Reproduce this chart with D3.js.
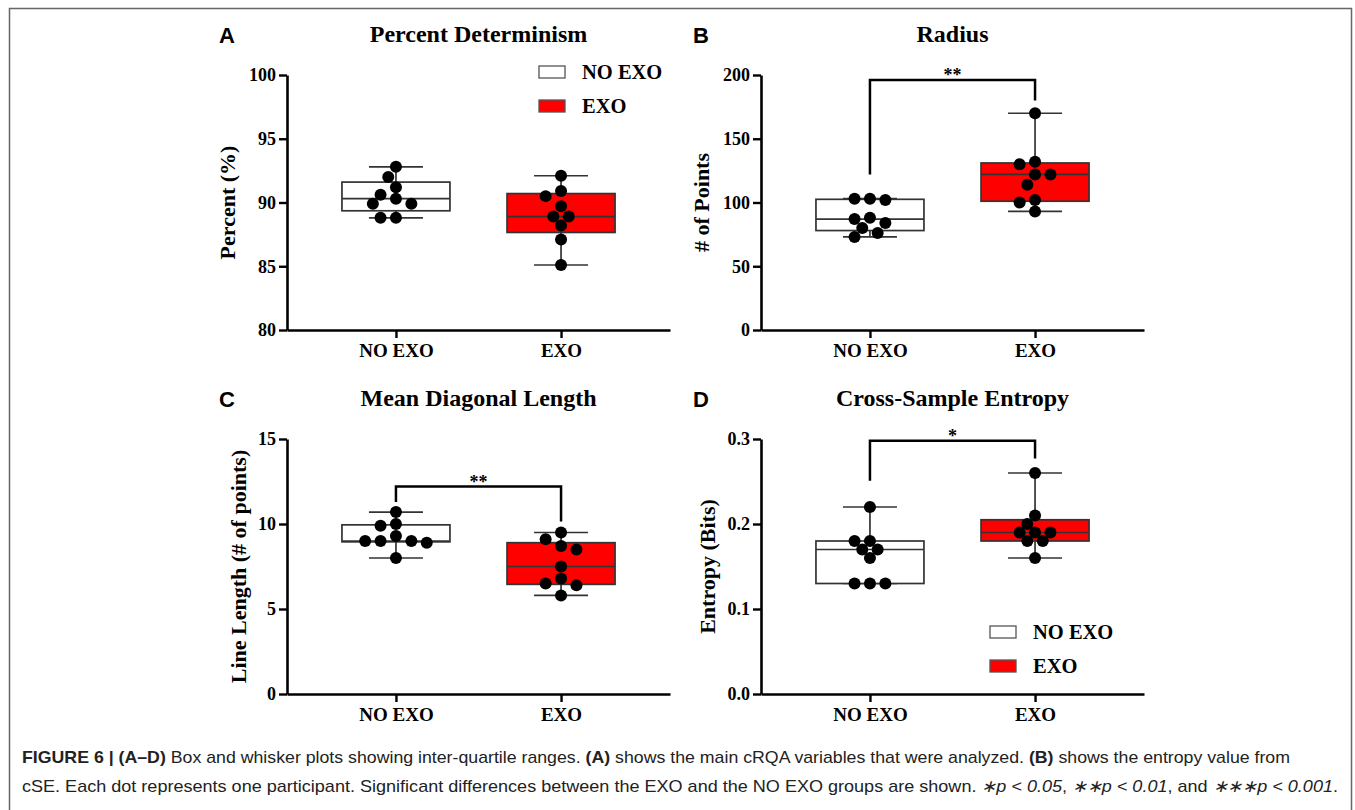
<!DOCTYPE html>
<html>
<head>
<meta charset="utf-8">
<script src="https://cdn.jsdelivr.net/npm/d3@7"></script>
<style>
  body { margin: 0; background: #fff; }
  svg .serif { font-family: "Liberation Serif", "Times New Roman", serif; }
  svg .sans { font-family: "Liberation Sans", Arial, Helvetica, sans-serif; }
</style>
</head>
<body>
<svg id="fig" width="1355" height="810"></svg>
<script>
const groups = ["NO EXO", "EXO"];

// one value per participant
const detNoExo = [89.9, 90.6, 92.0, 90.3, 92.8, 91.2, 89.9, 88.8, 88.8];
const detExo   = [92.1, 90.9, 90.5, 89.7, 88.9, 88.9, 88.2, 87.1, 85.1];
const radNoExo = [103, 102, 103, 88, 87, 84, 80, 73, 76];
const radExo   = [170, 130, 132, 122, 122, 114, 102, 100, 93];
const mdlNoExo = [10.7, 9.9, 10.0, 9.3, 9.0, 9.0, 8.9, 9.0, 8.0];
const mdlExo   = [9.5, 9.1, 8.7, 8.5, 7.5, 6.8, 6.5, 6.4, 5.8];
const cseNoExo = [0.22, 0.18, 0.18, 0.17, 0.17, 0.16, 0.13, 0.13, 0.13];
const cseExo   = [0.26, 0.21, 0.20, 0.19, 0.19, 0.19, 0.18, 0.18, 0.16];

const detTicks = [80, 85, 90, 95, 100];
const radTicks = [0, 50, 100, 150, 200];
const mdlTicks = [0, 5, 10, 15];
const cseTicks = [0.0, 0.1, 0.2, 0.3];

// significance brackets (data units): top of bracket, bottom of left leg, bottom of right leg
const sigRad = { label: "**", top: 196, left: 122, right: 180 };
const sigMdl = { label: "**", top: 12.2, left: 11.3, right: 10.15 };
const sigCse = { label: "*", top: 0.298, left: 0.251, right: 0.277 };

const fills = { "NO EXO": "#ffffff", "EXO": "#ff0000" };

const svg = d3.select("#fig");
const W = 383, H = 255;
const R = 6;

// Prism style quartiles, (n+1)p
function quart(sorted, p) {
  const n = sorted.length;
  const pos = (n + 1) * p;
  const lo = Math.floor(pos);
  const a = sorted[Math.min(Math.max(lo, 1), n) - 1];
  const b = sorted[Math.min(Math.max(lo + 1, 1), n) - 1];
  return a + (b - a) * (pos - lo);
}

// simple dodge so dots don't sit on each other
function dodge(values, y, r, step) {
  const order = values.map((v, i) => i).sort((a, b) => values[b] - values[a]);
  const placed = [];
  const off = new Array(values.length);
  order.forEach(i => {
    const py = y(values[i]);
    for (let k = 0; k < 30; k++) {
      const slot = k === 0 ? 0 : (k % 2 ? -Math.ceil(k / 2) : k / 2);
      const px = slot * step;
      const hit = placed.some(p => Math.hypot(p[0] - px, p[1] - py) < 2 * r * 0.95);
      if (!hit) { off[i] = px; placed.push([px, py]); break; }
    }
  });
  return off;
}

function drawPanel(cfg) {
  const g = svg.append("g").attr("transform", `translate(${cfg.left},${cfg.top})`);

  const x = d3.scalePoint().domain(groups).range([0, W]).padding(0.66);
  const y = d3.scaleLinear().domain(cfg.domain).range([H, 0]);

  // panel letter + title
  svg.append("text").attr("class", "sans")
    .attr("x", cfg.left - 68).attr("y", cfg.top - 32)
    .style("font-weight", "bold").style("font-size", "22px")
    .text(cfg.letter);
  svg.append("text").attr("class", "serif")
    .attr("x", cfg.left + W / 2).attr("y", cfg.top - 33.5)
    .attr("text-anchor", "middle")
    .style("font-weight", "bold").style("font-size", "24px")
    .text(cfg.title);

  // y label
  g.append("text").attr("class", "serif")
    .attr("transform", `translate(${cfg.yLabelX},${H / 2}) rotate(-90)`)
    .attr("text-anchor", "middle")
    .style("font-weight", "bold").style("font-size", "22px")
    .text(cfg.yLabel);

  const boxW = 108;
  const series = [cfg.noExo, cfg.exo];

  series.forEach((vals, gi) => {
    const grp = groups[gi];
    const cx = x(grp);
    const s = vals.slice().sort(d3.ascending);
    const q1 = quart(s, 0.25), med = quart(s, 0.5), q3 = quart(s, 0.75);
    const lo = s[0], hi = s[s.length - 1];
    const bg = g.append("g");

    // whiskers
    bg.append("line").attr("x1", cx).attr("x2", cx).attr("y1", y(q3)).attr("y2", y(hi))
      .attr("stroke", "#333").attr("stroke-width", 1.7);
    bg.append("line").attr("x1", cx).attr("x2", cx).attr("y1", y(q1)).attr("y2", y(lo))
      .attr("stroke", "#333").attr("stroke-width", 1.7);
    [hi, lo].forEach(v => {
      bg.append("line").attr("x1", cx - boxW / 4).attr("x2", cx + boxW / 4)
        .attr("y1", y(v)).attr("y2", y(v))
        .attr("stroke", "#333").attr("stroke-width", 1.7);
    });

    bg.append("rect")
      .attr("x", cx - boxW / 2).attr("width", boxW)
      .attr("y", y(q3)).attr("height", y(q1) - y(q3))
      .attr("fill", fills[grp]).attr("stroke", "#333").attr("stroke-width", 1.7);
    bg.append("line").attr("x1", cx - boxW / 2).attr("x2", cx + boxW / 2)
      .attr("y1", y(med)).attr("y2", y(med))
      .attr("stroke", "#333").attr("stroke-width", 1.7);

    const offs = dodge(vals, y, R, 7.7);
    bg.selectAll("circle.dot")
      .data(vals)
      .enter().append("circle")
      .attr("class", "dot")
      .attr("cx", (d, i) => cx + offs[i])
      .attr("cy", d => y(d))
      .attr("r", R)
      .attr("fill", "#000");
  });

  // axes
  const yAxis = g.append("g")
    .call(d3.axisLeft(y).tickValues(cfg.ticks).tickFormat(cfg.fmt).tickSize(8).tickSizeOuter(0).tickPadding(3));
  const xAxis = g.append("g")
    .attr("transform", `translate(0,${H})`)
    .call(d3.axisBottom(x).tickSize(8).tickSizeOuter(0).tickPadding(6));
  [yAxis, xAxis].forEach(a => {
    a.select(".domain").attr("stroke", "#000").attr("stroke-width", 2.6);
    a.selectAll(".tick line").attr("stroke", "#000").attr("stroke-width", 2.4);
    a.selectAll("text").attr("class", "serif")
      .style("font-weight", "bold").attr("fill", "#000");
  });
  yAxis.selectAll("text").style("font-size", "18px");
  xAxis.selectAll("text").style("font-size", "19px");

  // significance bracket
  if (cfg.sig) {
    const sg = cfg.sig;
    const x0 = x(groups[0]), x1 = x(groups[1]);
    g.append("path")
      .attr("d", `M${x0},${y(sg.left)}V${y(sg.top)}H${x1}V${y(sg.right)}`)
      .attr("fill", "none").attr("stroke", "#000").attr("stroke-width", 2.5);
    g.append("text").attr("class", "serif")
      .attr("x", (x0 + x1) / 2).attr("y", y(sg.top) + 1)
      .attr("text-anchor", "middle")
      .style("font-weight", "bold").style("font-size", "18px")
      .text(sg.label);
  }

  // legend
  if (cfg.legend) {
    const lg = svg.append("g").attr("transform", `translate(${cfg.legend[0]},${cfg.legend[1]})`);
    groups.forEach((grp, i) => {
      lg.append("rect").attr("x", 0).attr("y", i * 34).attr("width", 26).attr("height", 12)
        .attr("fill", fills[grp]).attr("stroke", "#555").attr("stroke-width", 1.3);
      lg.append("text").attr("class", "serif").attr("x", 43).attr("y", i * 34 + 13)
        .style("font-weight", "bold").style("font-size", "20.5px")
        .text(grp);
    });
  }
}

const fmtInt = d3.format("d");
const fmt1 = d3.format(".1f");

drawPanel({ letter: "A", title: "Percent Determinism", yLabel: "Percent (%)",
  left: 287, top: 75, domain: [80, 100], ticks: detTicks, fmt: fmtInt,
  noExo: detNoExo, exo: detExo, yLabelX: -52, legend: [539, 66] });
drawPanel({ letter: "B", title: "Radius", yLabel: "# of Points",
  left: 761, top: 75, domain: [0, 200], ticks: radTicks, fmt: fmtInt,
  noExo: radNoExo, exo: radExo, yLabelX: -52, sig: sigRad });
drawPanel({ letter: "C", title: "Mean Diagonal Length", yLabel: "Line Length (# of points)",
  left: 287, top: 439, domain: [0, 15], ticks: mdlTicks, fmt: fmtInt,
  noExo: mdlNoExo, exo: mdlExo, yLabelX: -41, sig: sigMdl });
drawPanel({ letter: "D", title: "Cross-Sample Entropy", yLabel: "Entropy (Bits)",
  left: 761, top: 439, domain: [0, 0.3], ticks: cseTicks, fmt: fmt1,
  noExo: cseNoExo, exo: cseExo, yLabelX: -46, sig: sigCse, legend: [990, 626] });

// frame
svg.append("rect").attr("x", 9.5).attr("y", 8.5).attr("width", 1342).attr("height", 830)
  .attr("fill", "none").attr("stroke", "#666").attr("stroke-width", 1.5);

// caption
const cap = svg.append("g").attr("fill", "#222");
const line1 = cap.append("text").attr("class", "sans").attr("x", 22).attr("y", 763)
  .style("font-size", "17px")
  .attr("textLength", 1268).attr("lengthAdjust", "spacingAndGlyphs");
[["FIGURE 6 | (A–D)", "bold", "normal"],
 [" Box and whisker plots showing inter-quartile ranges. ", "normal", "normal"],
 ["(A)", "bold", "normal"],
 [" shows the main cRQA variables that were analyzed. ", "normal", "normal"],
 ["(B)", "bold", "normal"],
 [" shows the entropy value from", "normal", "normal"]].forEach(t => {
  line1.append("tspan").style("font-weight", t[1]).style("font-style", t[2]).text(t[0]);
});
const line2 = cap.append("text").attr("class", "sans").attr("x", 22).attr("y", 792)
  .style("font-size", "17px")
  .attr("textLength", 1316).attr("lengthAdjust", "spacingAndGlyphs");
[["cSE. Each dot represents one participant. Significant differences between the EXO and the NO EXO groups are shown. ", "normal", "normal"],
 ["∗p < 0.05", "normal", "italic"], [", ", "normal", "normal"],
 ["∗∗p < 0.01", "normal", "italic"], [", and ", "normal", "normal"],
 ["∗∗∗p < 0.001", "normal", "italic"], [".", "normal", "normal"]].forEach(t => {
  line2.append("tspan").style("font-weight", t[1]).style("font-style", t[2]).text(t[0]);
});
</script>
</body>
</html>
